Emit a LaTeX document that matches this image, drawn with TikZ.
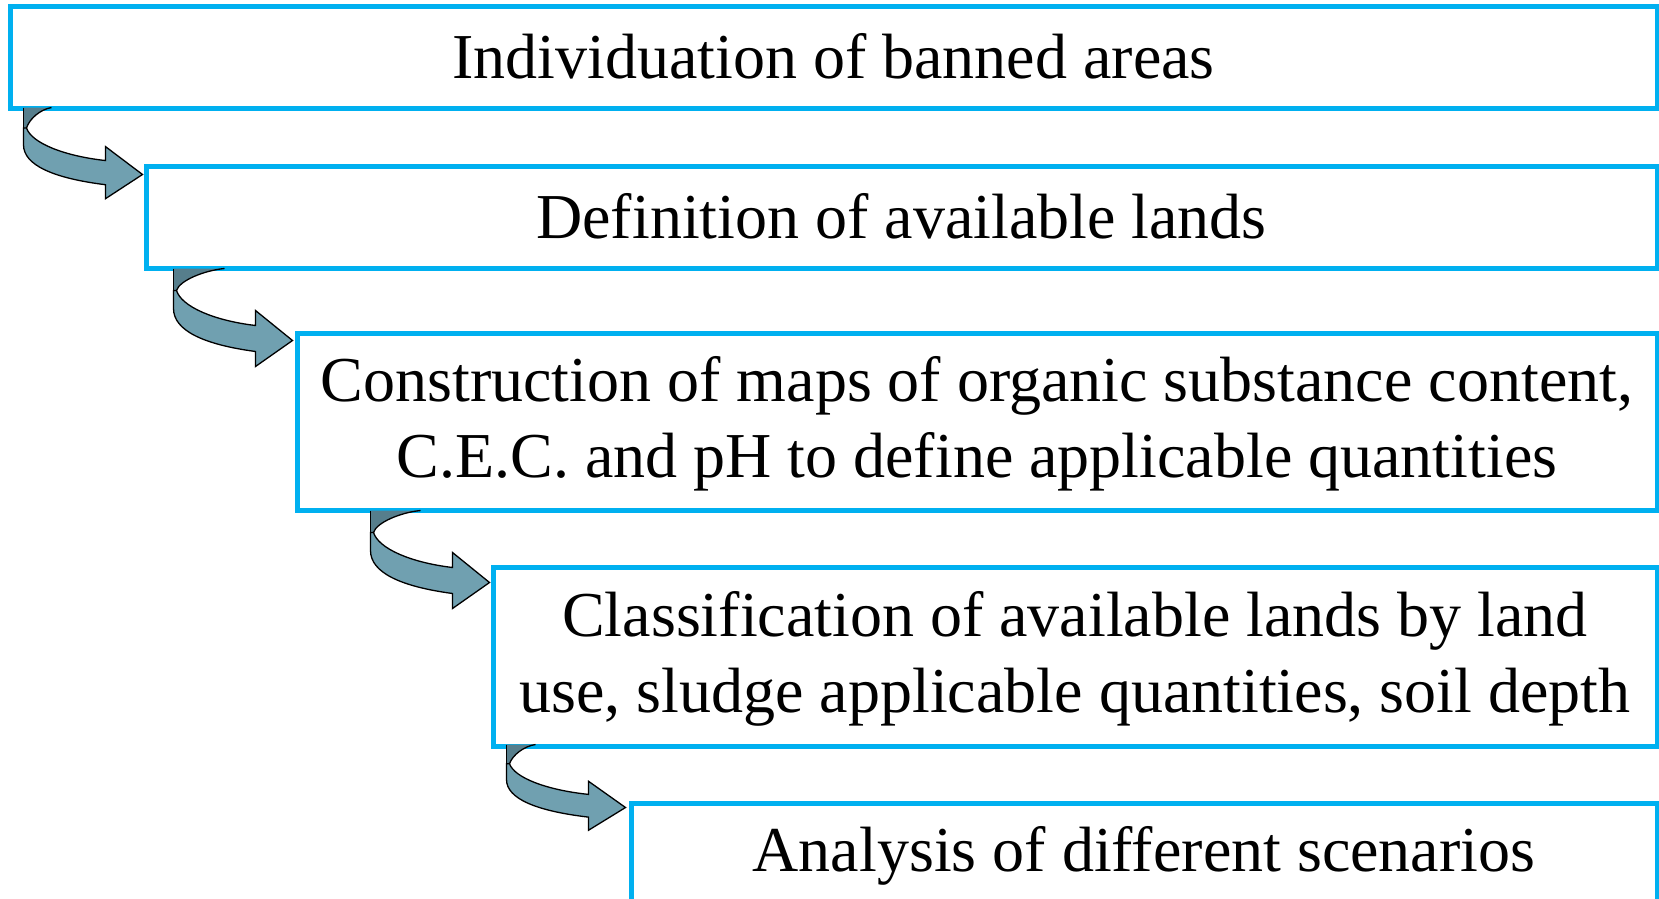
\documentclass[tikz,border=0pt]{standalone}
\usepackage{fontspec}
\setmainfont{Liberation Serif}
\usetikzlibrary{calc}

\definecolor{boxblue}{RGB}{0,176,240}
\definecolor{bendfront}{RGB}{112,160,176}
\definecolor{bendback}{RGB}{86,126,140}

% same height and depth for every line of text
\newcommand{\lnstrut}{\rule[-8pt]{0pt}{58pt}}

\tikzset{
  stepbox/.style={draw=boxblue, line width=5pt, inner sep=0pt, align=center},
  pics/bendarrow/.style 2 args={code={
    \begin{scope}[yscale=#1]
      \fill[bendback] (-119,-72) -- ({#2-119},-72) .. controls ({0.6*#2-119},-70) and (-113,-60) .. (-116,-50) -- (-119,-50) -- cycle;
      \filldraw[fill=bendfront, draw=black, line width=1.3pt, line join=miter] (-116,-50) .. controls (-111,-34) and (-79,-20) .. (-37,-15) -- (-37,-30) -- (0,0) -- (-37,26) -- (-37,11) .. controls (-89,4) and (-119,-10) .. (-119,-32) -- (-119,-50) -- cycle;
      \draw[black, line width=1.3pt] ({#2-119},-72) .. controls ({0.6*#2-119},-70) and (-113,-60) .. (-116,-50);
      \draw[black, line width=1.3pt] (-119,-72) -- (-119,-50);
    \end{scope}
  }},
}

\begin{document}
\begin{tikzpicture}[x=1pt, y=-1pt, font=\fontsize{64}{76}\selectfont]
    \path[use as bounding box, clip] (0,0) rectangle (1659,899);
    \fill[white] (0,0) rectangle (1659,899);

    \node[stepbox, minimum width=1647pt, minimum height=101pt]  (b1)  at ( 833.5,  57.5)  {\lnstrut Individuation of banned areas};
    \node[stepbox, minimum width=1511pt, minimum height=102pt]  (b2)  at ( 901.5, 217.0)  {\lnstrut Definition of available lands};
    \node[stepbox, minimum width=1360pt, minimum height=177pt]  (b3)  at ( 977.0, 421.5)  {\lnstrut Construction of maps of organic substance content, \\ \lnstrut C.E.C. and pH to define applicable quantities};
    \node[stepbox, minimum width=1164pt, minimum height=179pt]  (b4)  at (1075.0, 656.5)  {\lnstrut Classification of available lands by land \\ \lnstrut use, sludge applicable quantities, soil depth};
    \node[stepbox, minimum width=1026pt, minimum height=101pt]  (b5)  at (1144.0, 853.5)  {\lnstrut Analysis of different scenarios};

    \pic at ($(b2.north west)+(-1,11)$) {bendarrow={0.93}{28}};
    \pic at ($(b3.north west)+(-2,10)$) {bendarrow={1.0}{51}};
    \pic at ($(b4.north west)+(-1,18)$) {bendarrow={1.0}{50}};
    \pic at ($(b5.north west)+(-3,7)$)  {bendarrow={0.875}{29}};
\end{tikzpicture}
\end{document}
